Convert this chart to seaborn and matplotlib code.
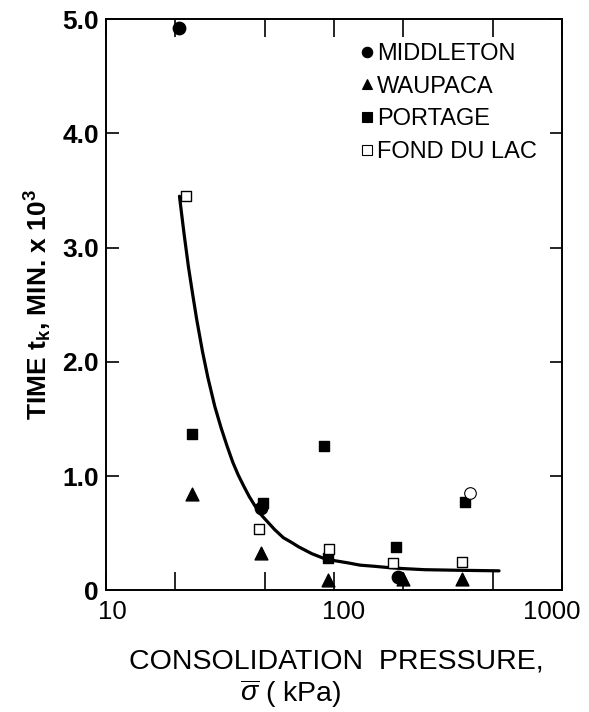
import matplotlib
matplotlib.use("Agg")
import matplotlib.pyplot as plt
import matplotlib.transforms as mtransforms
import seaborn as sns
import pandas as pd
import numpy as np

# data: pressure (kPa), time (min x 10^3)
middleton_x = [21, 48, 190]
middleton_y = [4.92, 0.72, 0.12]
middleton_open_x = [395]
middleton_open_y = [0.85]
waupaca_x = [23.8, 48, 94, 200, 365]
waupaca_y = [0.84, 0.33, 0.09, 0.10, 0.10]
portage_x = [23.8, 48.8, 90, 94, 187, 375]
portage_y = [1.37, 0.76, 1.26, 0.28, 0.38, 0.77]
fond_x = [22.4, 47, 95, 181, 366]
fond_y = [3.45, 0.54, 0.36, 0.24, 0.25]

# fitted curve
curve_x = [21, 22, 23, 24, 25, 26.5, 28, 30, 32, 34, 36, 38, 40, 42.5, 45, 47.5, 50,
           55, 60, 65, 70, 80, 90, 100, 115, 130, 150, 170, 200, 250, 350, 530]
curve_y = [3.45, 3.12, 2.83, 2.59, 2.37, 2.09, 1.86, 1.61, 1.42, 1.26, 1.12, 1.01,
           0.92, 0.82, 0.74, 0.67, 0.62, 0.53, 0.46, 0.42, 0.38, 0.32, 0.28, 0.26,
           0.24, 0.22, 0.21, 0.20, 0.19, 0.18, 0.175, 0.17]

x_major = [10, 100, 1000]
x_labels = ['10', '100', '1000']
y_major = [0, 1, 2, 3, 4, 5]
y_labels = ['0', '1.0', '2.0', '3.0', '4.0', '5.0']

sns.set_style("ticks")
plt.rcParams['font.family'] = ['Liberation Sans', 'DejaVu Sans']
plt.rcParams['mathtext.fontset'] = 'custom'
plt.rcParams['mathtext.rm'] = 'Liberation Sans'
plt.rcParams['mathtext.it'] = 'Liberation Sans:italic'
plt.rcParams['mathtext.bf'] = 'Liberation Sans:bold'
plt.rcParams['text.color'] = 'black'
plt.rcParams['axes.labelcolor'] = 'black'
plt.rcParams['xtick.color'] = 'black'
plt.rcParams['ytick.color'] = 'black'
plt.rcParams['axes.edgecolor'] = 'black'

fig = plt.figure(figsize=(5.89, 7.12), dpi=100)
ax = fig.add_axes([0.18, 0.171, 0.774, 0.802])

sns.lineplot(x=curve_x, y=curve_y, ax=ax, color='black', lw=2.3, sort=True)

sites = [
    ('MIDDLETON', middleton_x, middleton_y, 'o', 'black', 80),
    ('WAUPACA', waupaca_x, waupaca_y, '^', 'black', 85),
    ('PORTAGE', portage_x, portage_y, 's', 'black', 60),
    ('FOND DU LAC', fond_x, fond_y, 's', 'white', 60),
]
handles = []
for name, xs, ys, m, fc, s in sites:
    df = pd.DataFrame({'x': xs, 'y': ys})
    sns.scatterplot(data=df, x='x', y='y', ax=ax, marker=m, s=s, color=fc,
                    edgecolor='black', linewidth=1.0, zorder=3)
    handles.append(plt.Line2D([], [], ls='none', marker=m, markersize=7.5,
                              markerfacecolor=fc, markeredgecolor='black',
                              markeredgewidth=0.8, label=name))
sns.scatterplot(x=middleton_open_x, y=middleton_open_y, ax=ax, marker='o', s=70,
                color='white', edgecolor='black', linewidth=0.8, zorder=3)

ax.set_xscale('log')
ax.set_xlim(10, 1000)
ax.set_ylim(0, 5.0)

ax.set_xticks(x_major)
ax.set_xticklabels(x_labels, fontsize=18.5)
ax.set_xticks([20, 50, 200, 500], minor=True)
ax.xaxis.set_minor_formatter(matplotlib.ticker.NullFormatter())
ax.set_yticks(y_major)
ax.set_yticklabels(y_labels, fontweight='bold', fontsize=19)

ax.tick_params(axis='both', which='both', direction='in', top=True, right=True,
               length=9, width=1.2, pad=5)
ax.tick_params(axis='x', which='both', length=13, pad=7)
for sp in ax.spines.values():
    sp.set_linewidth(1.4)
    sp.set_visible(True)

# hand lettering sits a little off the tick positions
for lab, dx in zip(ax.get_xticklabels(), [6, 10, -10]):
    lab.set_transform(lab.get_transform() +
                      mtransforms.ScaledTranslation(dx / 100, 0, fig.dpi_scale_trans))

ax.set_xlabel('')
fig.text(336 / 589, 1 - 662 / 712, 'CONSOLIDATION  PRESSURE,', fontsize=20.5,
         ha='center', va='center')
fig.text(240 / 589, 1 - 694 / 712, r'$\overline{\sigma}$ ( kPa)', fontsize=20.5,
         ha='left', va='center')
ax.set_ylabel(r'TIME $\mathbf{t_k}$, MIN. x 10$^\mathbf{3}$', fontsize=19,
              fontweight='bold', labelpad=6)

ax.legend(handles=handles, loc='upper right', frameon=False, fontsize=17,
          handletextpad=0.05, handlelength=0.7, labelspacing=0.45,
          borderaxespad=0, bbox_to_anchor=(0.965, 0.975))

fig.savefig('out.png', dpi=100)
